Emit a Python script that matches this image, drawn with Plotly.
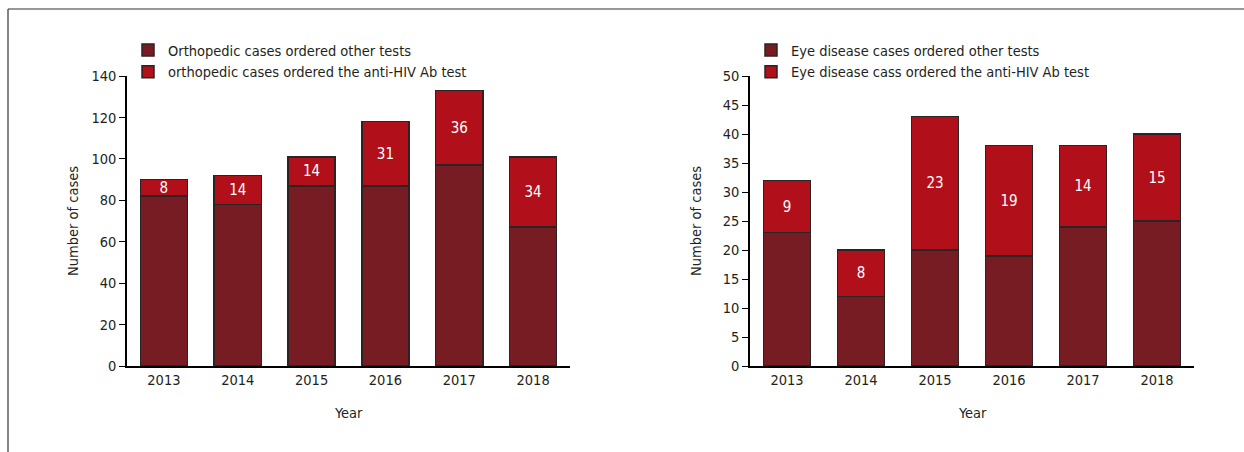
import plotly.graph_objects as go

years = ["2013", "2014", "2015", "2016", "2017", "2018"]
ortho_other = [82, 78, 87, 87, 97, 67]
ortho_hiv = [8, 14, 14, 31, 36, 34]
eye_other = [23, 12, 20, 19, 24, 25]
eye_hiv = [9, 8, 23, 19, 14, 15]

left_names = ["Orthopedic cases ordered other tests", "orthopedic cases ordered the anti-HIV Ab test"]
right_names = ["Eye disease cases ordered other tests", "Eye disease cass ordered the anti-HIV Ab test"]

W, H = 1244, 452
FONT = "DejaVu Sans Condensed, Liberation Sans Narrow, DejaVu Sans, sans-serif"
DARK = "#761c22"
RED = "#b10f19"
EDGE = "#2b2324"
TXT = "#231f20"

def px(x):
    return x / W

def py(y):
    return (H - y) / H

fig = go.Figure()

bar_line = dict(color=EDGE, width=1.5)
label_font = dict(color="white", size=15, family=FONT)

fig.add_trace(go.Bar(x=years, y=ortho_other, name=left_names[0], marker=dict(color=DARK, line=bar_line),
                     xaxis="x", yaxis="y", legend="legend"))
fig.add_trace(go.Bar(x=years, y=ortho_hiv, name=left_names[1], marker=dict(color=RED, line=bar_line),
                     text=[str(v) for v in ortho_hiv], textposition="inside", insidetextanchor="middle",
                     textangle=0, constraintext="none", textfont=label_font,
                     xaxis="x", yaxis="y", legend="legend"))
fig.add_trace(go.Bar(x=years, y=eye_other, name=right_names[0], marker=dict(color=DARK, line=bar_line),
                     xaxis="x2", yaxis="y2", legend="legend2"))
fig.add_trace(go.Bar(x=years, y=eye_hiv, name=right_names[1], marker=dict(color=RED, line=bar_line),
                     text=[str(v) for v in eye_hiv], textposition="inside", insidetextanchor="middle",
                     textangle=0, constraintext="none", textfont=label_font,
                     xaxis="x2", yaxis="y2", legend="legend2"))

ydom = [py(366), py(76)]
tickfont = dict(size=14.5, color=TXT, family=FONT)
common_x = dict(type="category", showline=True, linecolor="#000", linewidth=1.5, ticks="",
                tickfont=tickfont, showgrid=False, zeroline=False, fixedrange=True, automargin=False)
common_y = dict(showline=True, linecolor="#000", linewidth=1.5, ticks="outside", ticklen=6, tickwidth=1.2,
                tickcolor="#000", tickfont=tickfont, showgrid=False,
                zeroline=False, fixedrange=True, automargin=False)

legend_font = dict(size=14.5, color=TXT, family=FONT)
title_font = dict(size=14.5, color=TXT, family=FONT)

fig.update_layout(
    width=W, height=H,
    margin=dict(l=0, r=0, t=0, b=0, pad=0, autoexpand=False),
    paper_bgcolor="white", plot_bgcolor="white",
    barmode="stack", bargap=0.36,
    font=dict(family=FONT, color=TXT),
    showlegend=True,
    xaxis=dict(domain=[px(127), px(570)], anchor="y", **common_x),
    yaxis=dict(domain=ydom, anchor="x", range=[0, 140], dtick=20, **common_y),
    xaxis2=dict(domain=[px(750), px(1194)], anchor="y2", **common_x),
    yaxis2=dict(domain=ydom, anchor="x2", range=[0, 50], dtick=5, **common_y),
    legend=dict(x=px(128), y=py(34), xanchor="left", yanchor="top", traceorder="normal",
                font=legend_font, bgcolor="rgba(0,0,0,0)", tracegroupgap=0, itemclick=False),
    legend2=dict(x=px(751), y=py(34), xanchor="left", yanchor="top", traceorder="normal",
                 font=legend_font, bgcolor="rgba(0,0,0,0)", tracegroupgap=0, itemclick=False),
    annotations=[
        dict(text="Number of cases", x=px(73), y=py(221), xref="paper", yref="paper", showarrow=False,
             xanchor="center", yanchor="middle", textangle=-90, font=title_font),
        dict(text="Year", x=px(348), y=py(413), xref="paper", yref="paper", showarrow=False,
             xanchor="center", yanchor="middle", font=title_font),
        dict(text="Number of cases", x=px(696), y=py(221), xref="paper", yref="paper", showarrow=False,
             xanchor="center", yanchor="middle", textangle=-90, font=title_font),
        dict(text="Year", x=px(972), y=py(413), xref="paper", yref="paper", showarrow=False,
             xanchor="center", yanchor="middle", font=title_font),
    ],
    shapes=[
        dict(type="line", xref="paper", yref="paper", x0=px(8), x1=1, y0=py(9), y1=py(9),
             line=dict(color="#333", width=1.2)),
        dict(type="line", xref="paper", yref="paper", x0=px(8), x1=px(8), y0=py(9), y1=0,
             line=dict(color="#333", width=1.2)),
    ],
)

fig.write_html("out.html", config=dict(displayModeBar=False))
